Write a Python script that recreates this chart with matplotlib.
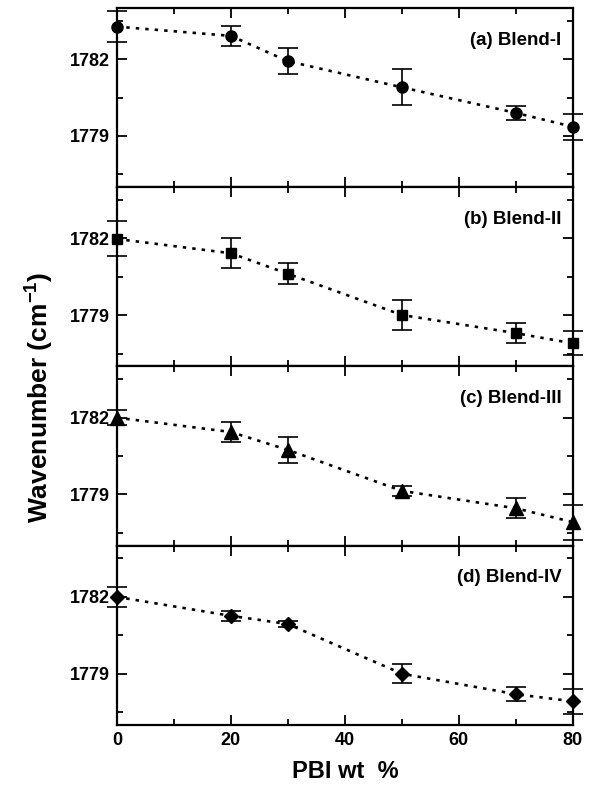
import matplotlib

matplotlib.use("Agg")
import matplotlib.pyplot as plt
from matplotlib.ticker import MultipleLocator

plt.rcParams["font.family"] = ["Liberation Sans", "DejaVu Sans"]
plt.rcParams["font.weight"] = "bold"
plt.rcParams["mathtext.fontset"] = "custom"
plt.rcParams["mathtext.bf"] = "Liberation Sans:bold"

# PBI content of the blends (wt %)
pbi = [0, 20, 30, 50, 70, 80]

# carbonyl band position (cm^-1) and its spread for each blend series
blend1 = [1783.27, 1782.91, 1781.92, 1780.90, 1779.90, 1779.36]
blend1_err = [0.60, 0.38, 0.50, 0.70, 0.28, 0.50]
blend2 = [1781.98, 1781.42, 1780.62, 1779.01, 1778.30, 1777.90]
blend2_err = [0.68, 0.58, 0.40, 0.59, 0.38, 0.47]
blend3 = [1782.00, 1781.44, 1780.74, 1779.14, 1778.46, 1777.92]
blend3_err = [0.29, 0.40, 0.50, 0.20, 0.39, 0.68]
blend4 = [1782.00, 1781.26, 1780.94, 1779.00, 1778.20, 1777.92]
blend4_err = [0.38, 0.20, 0.12, 0.38, 0.27, 0.48]

panels = [
    ("(a) Blend-I", blend1, blend1_err, "o", 8),
    ("(b) Blend-II", blend2, blend2_err, "s", 7.5),
    ("(c) Blend-III", blend3, blend3_err, "^", 9.5),
    ("(d) Blend-IV", blend4, blend4_err, "D", 7),
]

fig, axes = plt.subplots(4, 1, figsize=(5.9, 7.94), dpi=100, sharex=True)
fig.subplots_adjust(left=0.198, right=0.971, bottom=0.087, top=0.990, hspace=0)

for ax, (label, y, err, mk, ms) in zip(axes, panels):
    ax.errorbar(
        pbi, y, yerr=err,
        color="black", marker=mk, markersize=ms,
        linestyle=(0, (1.3, 2.3)), linewidth=1.9,
        elinewidth=1.2, capsize=7.5, capthick=1.2,
        clip_on=False,
    )
    ax.set_xlim(0, 80)
    ax.set_ylim(1777, 1784)
    ax.yaxis.set_major_locator(MultipleLocator(3))
    ax.yaxis.set_minor_locator(MultipleLocator(1.5))
    ax.xaxis.set_major_locator(MultipleLocator(20))
    ax.xaxis.set_minor_locator(MultipleLocator(10))
    ax.tick_params(which="both", direction="in", top=True, right=True,
                   width=1.3, labelsize=13, pad=5)
    ax.tick_params(which="major", length=7)
    ax.tick_params(which="minor", length=4.5)
    for sp in ax.spines.values():
        sp.set_linewidth(1.6)
    for t in ax.get_yticklabels():
        t.set_fontweight("bold")
    ax.text(0.975, 0.82, label, transform=ax.transAxes, ha="right", va="center",
            fontsize=13.5, fontweight="bold")

for t in axes[-1].get_xticklabels():
    t.set_fontweight("bold")
axes[-1].set_xlabel("PBI wt  %", fontsize=17, fontweight="bold", labelpad=8)
fig.text(0.066, 0.5, r"Wavenumber (cm$^{\mathbf{-1}}$)", rotation=90,
         ha="center", va="center", fontsize=19, fontweight="bold")

fig.savefig("out.png", dpi=100)
